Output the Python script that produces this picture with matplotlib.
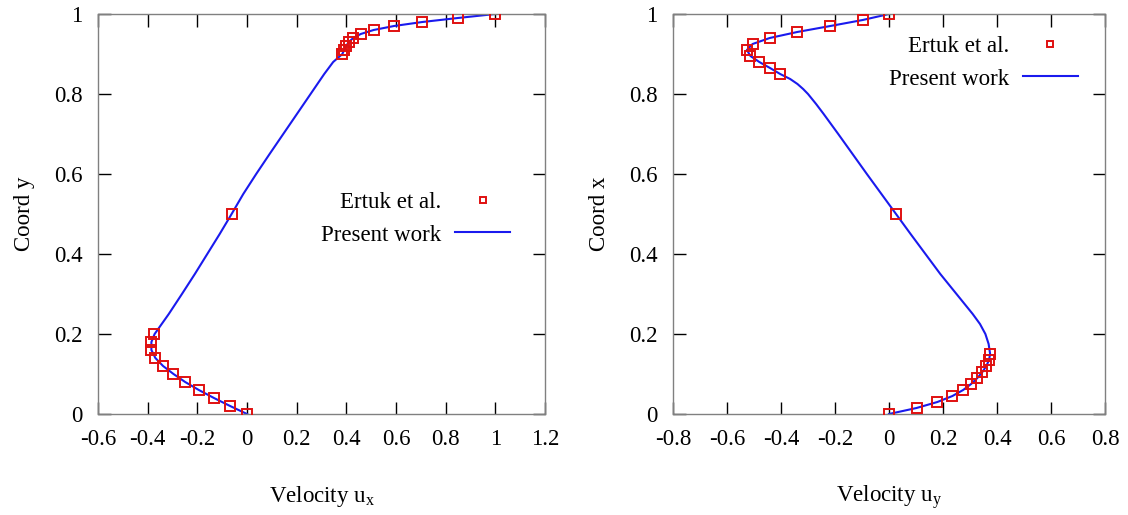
import matplotlib
matplotlib.use("Agg")
import matplotlib.pyplot as plt
from matplotlib.ticker import FuncFormatter, MultipleLocator

plt.rcParams['font.family'] = ['Liberation Serif', 'DejaVu Serif']
plt.rcParams['mathtext.fontset'] = 'custom'
plt.rcParams['mathtext.rm'] = 'Liberation Serif'

# ---- left panel: u_x along vertical centreline ----
ref_y = [1.0, 0.99, 0.98, 0.97, 0.96, 0.95, 0.94, 0.93, 0.92, 0.91, 0.90,
         0.5, 0.2, 0.18, 0.16, 0.14, 0.12, 0.10, 0.08, 0.06, 0.04, 0.02, 0.0]
ref_ux = [1.0, 0.8486, 0.7065, 0.5917, 0.5102, 0.4582, 0.4276, 0.4101, 0.3993, 0.3913, 0.3838,
          -0.0620, -0.3756, -0.3869, -0.3854, -0.3690, -0.3381, -0.2962, -0.2487, -0.1939, -0.1326, -0.0677, 0.0]

cur_y = [0.0, 0.02, 0.04, 0.06, 0.08, 0.10, 0.12, 0.14, 0.16, 0.18, 0.20, 0.25, 0.30, 0.35,
         0.40, 0.45, 0.50, 0.55, 0.60, 0.65, 0.70, 0.75, 0.80, 0.85, 0.88, 0.90, 0.91, 0.92,
         0.93, 0.94, 0.95, 0.96, 0.97, 0.98, 0.99, 1.0]
cur_ux = [0.0, -0.068, -0.133, -0.194, -0.249, -0.296, -0.338, -0.369, -0.385, -0.385, -0.372,
          -0.315, -0.262, -0.21, -0.16, -0.11, -0.062, -0.015, 0.037, 0.091, 0.146, 0.201,
          0.256, 0.311, 0.347, 0.384, 0.391, 0.399, 0.410, 0.428, 0.458, 0.510, 0.592, 0.706,
          0.849, 1.0]

# ---- right panel: u_y along horizontal centreline ----
ref_x = [1.0, 0.985, 0.97, 0.955, 0.94, 0.925, 0.91, 0.895, 0.88, 0.865, 0.85,
         0.5, 0.15, 0.135, 0.12, 0.105, 0.09, 0.075, 0.06, 0.045, 0.03, 0.015, 0.0]
ref_uy = [0.0, -0.0973, -0.2173, -0.3400, -0.4417, -0.5052, -0.5263, -0.5132, -0.4803, -0.4407, -0.4028,
          0.0258, 0.3756, 0.3705, 0.3605, 0.3460, 0.3273, 0.3041, 0.2746, 0.2349, 0.1792, 0.1019, 0.0]

cur_x = [0.0, 0.015, 0.03, 0.045, 0.06, 0.075, 0.09, 0.105, 0.12, 0.135, 0.15, 0.175, 0.2,
         0.225, 0.25, 0.3, 0.35, 0.4, 0.45, 0.5, 0.55, 0.6, 0.65, 0.7, 0.75, 0.775, 0.8,
         0.8125, 0.825, 0.8375, 0.85, 0.865, 0.88, 0.895, 0.91, 0.925, 0.94, 0.955, 0.97,
         0.985, 1.0]
cur_uy = [0.0, 0.1019, 0.1792, 0.2349, 0.2746, 0.3041, 0.3273, 0.3460, 0.3605, 0.3705, 0.3745,
          0.369, 0.357, 0.337, 0.31, 0.25, 0.19, 0.135, 0.08, 0.026, -0.028, -0.082, -0.135,
          -0.188, -0.242, -0.27, -0.30, -0.318, -0.339, -0.366, -0.403, -0.4407, -0.4803,
          -0.5132, -0.5263, -0.5052, -0.4417, -0.3400, -0.2173, -0.0973, 0.0]

fmt = FuncFormatter(lambda v, p: "%g" % round(v, 6))
FS = 16.5


def style(ax, xlim):
    ax.set_xlim(*xlim)
    ax.set_ylim(0, 1)
    ax.xaxis.set_major_locator(MultipleLocator(0.2))
    ax.yaxis.set_major_locator(MultipleLocator(0.2))
    ax.xaxis.set_major_formatter(fmt)
    ax.yaxis.set_major_formatter(fmt)
    ax.tick_params(direction='in', length=9, width=1, top=True, right=True,
                   labelsize=FS, pad=11)
    for s in ax.spines.values():
        s.set_color('#808080')
        s.set_linewidth(1.0)


fig = plt.figure(figsize=(11.28, 5.15), dpi=100)
ax1 = fig.add_axes([98 / 1128, 1 - 414 / 515, (545 - 98) / 1128, 400 / 515])
ax2 = fig.add_axes([673 / 1128, 1 - 414 / 515, (1105 - 673) / 1128, 400 / 515])

for ax, rx, ry, cx, cy in [(ax1, ref_ux, ref_y, cur_ux, cur_y),
                           (ax2, ref_uy, ref_x, cur_uy, cur_x)]:
    ax.plot(cx, cy, color='#1a1aee', lw=1.5, label='Present work', zorder=2)
    ax.plot(rx, ry, ls='none', marker='s', ms=6.5, mfc='none', mec='#e01010', mew=1.4,
            label='Ertuk et al.', zorder=3)

style(ax1, (-0.6, 1.2))
style(ax2, (-0.8, 0.8))

ax1.set_xlabel(r'Velocity u$_\mathregular{x}$', fontsize=FS, labelpad=24)
ax1.set_ylabel('Coord y', fontsize=FS, labelpad=14)
ax2.set_xlabel(r'Velocity u$_\mathregular{y}$', fontsize=FS, labelpad=24)
ax2.set_ylabel('Coord x', fontsize=FS, labelpad=14)

for ax, anchor in [(ax1, (0.943, 0.578)), (ax2, (0.958, 0.968))]:
    h, l = ax.get_legend_handles_labels()
    leg = ax.legend(h[::-1], l[::-1], loc='upper right', bbox_to_anchor=anchor,
                    frameon=False, markerfirst=False, fontsize=FS, handlelength=2.4,
                    handletextpad=0.6, labelspacing=0.5, borderaxespad=0)
    for line in leg.get_lines():
        line.set_markersize(5)

fig.savefig('out.png', dpi=100)
